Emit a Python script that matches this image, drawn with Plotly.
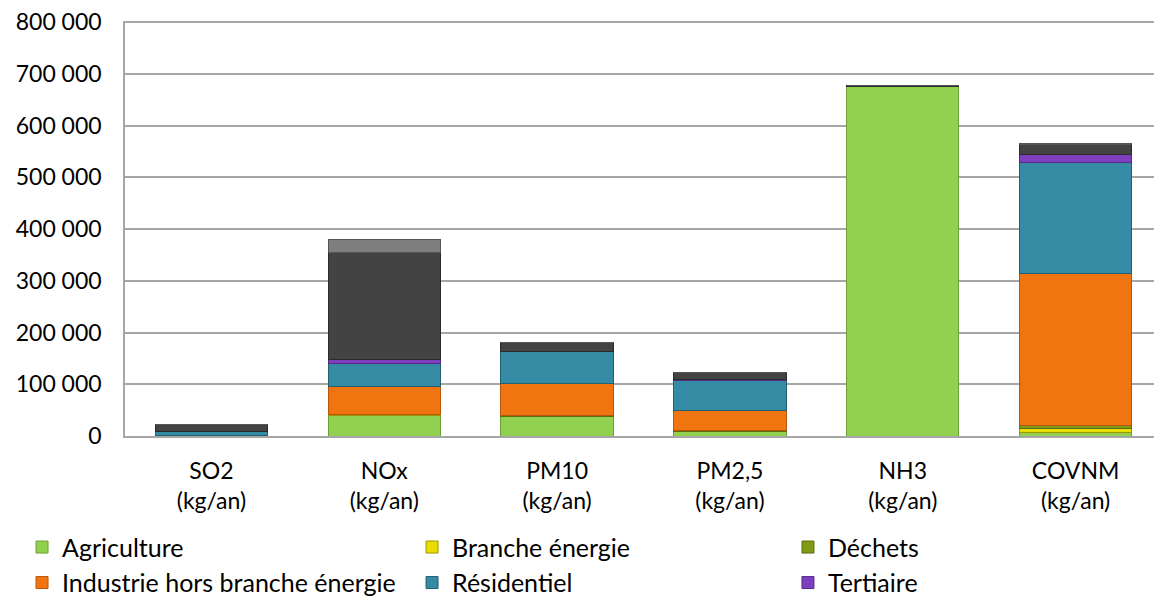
import plotly.graph_objects as go

categories = ["SO2<br>(kg/an)", "NOx<br>(kg/an)", "PM10<br>(kg/an)", "PM2,5<br>(kg/an)", "NH3<br>(kg/an)", "COVNM<br>(kg/an)"]

agriculture = [500, 40000, 38000, 9000, 675000, 7000]
branche_energie = [300, 1000, 300, 300, 0, 8000]
dechets = [0, 500, 500, 500, 0, 5000]
industrie = [1000, 54000, 63000, 40000, 300, 295000]
residentiel = [7000, 44000, 61000, 58000, 0, 213000]
tertiaire = [800, 8000, 1000, 1000, 0, 16000]
transport_routier = [12500, 208000, 16000, 13000, 2500, 20000]
autres_transports = [500, 25000, 500, 300, 0, 1000]

y_ticks = [0, 100000, 200000, 300000, 400000, 500000, 600000, 700000, 800000]

# (name, values, fill, edge, legend id or None)
series = [
    ("Agriculture", agriculture, "#92D050", "#6E9E3A", "legend"),
    ("Branche énergie", branche_energie, "#E8DC00", "#A09800", "legend2"),
    ("Déchets", dechets, "#7F9A14", "#5A6E0C", "legend3"),
    ("Industrie hors branche énergie", industrie, "#F07510", "#B5560A", "legend"),
    ("Résidentiel", residentiel, "#368BA4", "#245F70", "legend2"),
    ("Tertiaire", tertiaire, "#7E3FBE", "#562A85", "legend3"),
    ("Transport routier", transport_routier, "#434343", "#2A2A2A", None),
    ("Autres transports", autres_transports, "#7F7F7F", "#555555", None),
]

fig = go.Figure()
for name, vals, color, edge, leg in series:
    fig.add_trace(go.Bar(
        name=name, x=categories, y=vals,
        marker=dict(color=color, line=dict(color=edge, width=1)),
        showlegend=leg is not None,
        legend=leg if leg else "legend",
        legendgroup=name,
    ))

font_family = "Lato, Open Sans, sans-serif"
legend_common = dict(orientation="v", yanchor="top", xanchor="left",
                     traceorder="normal", font=dict(size=25, family=font_family),
                     itemwidth=30, tracegroupgap=21, bgcolor="rgba(0,0,0,0)")
leg_y = -0.2128
fig.update_layout(
    width=1162, height=601,
    barmode="stack", bargap=0.35,
    separators=", ",
    plot_bgcolor="white", paper_bgcolor="white",
    margin=dict(l=117, r=8, t=13, b=173, autoexpand=False),
    font=dict(family=font_family, size=23, color="#000000"),
    yaxis=dict(range=[0, 802000], tickmode="array", tickvals=y_ticks, tickformat=",d",
               showgrid=True, gridcolor="#A6A6A6", gridwidth=1.5,
               zeroline=False, showline=True, linecolor="#A6A6A6", linewidth=1.5,
               ticks="", tickfont=dict(size=23), ticklabelstandoff=17,
               ticklabeloverflow="allow"),
    xaxis=dict(showline=True, linecolor="#A6A6A6", linewidth=1.5,
               ticks="", tickfont=dict(size=23), ticklabelstandoff=14),
    legend=dict(x=-0.0993, y=leg_y, **legend_common),
    legend2=dict(x=0.2768, y=leg_y, **legend_common),
    legend3=dict(x=0.6393, y=leg_y, **legend_common),
)

fig.write_html("out.html")
